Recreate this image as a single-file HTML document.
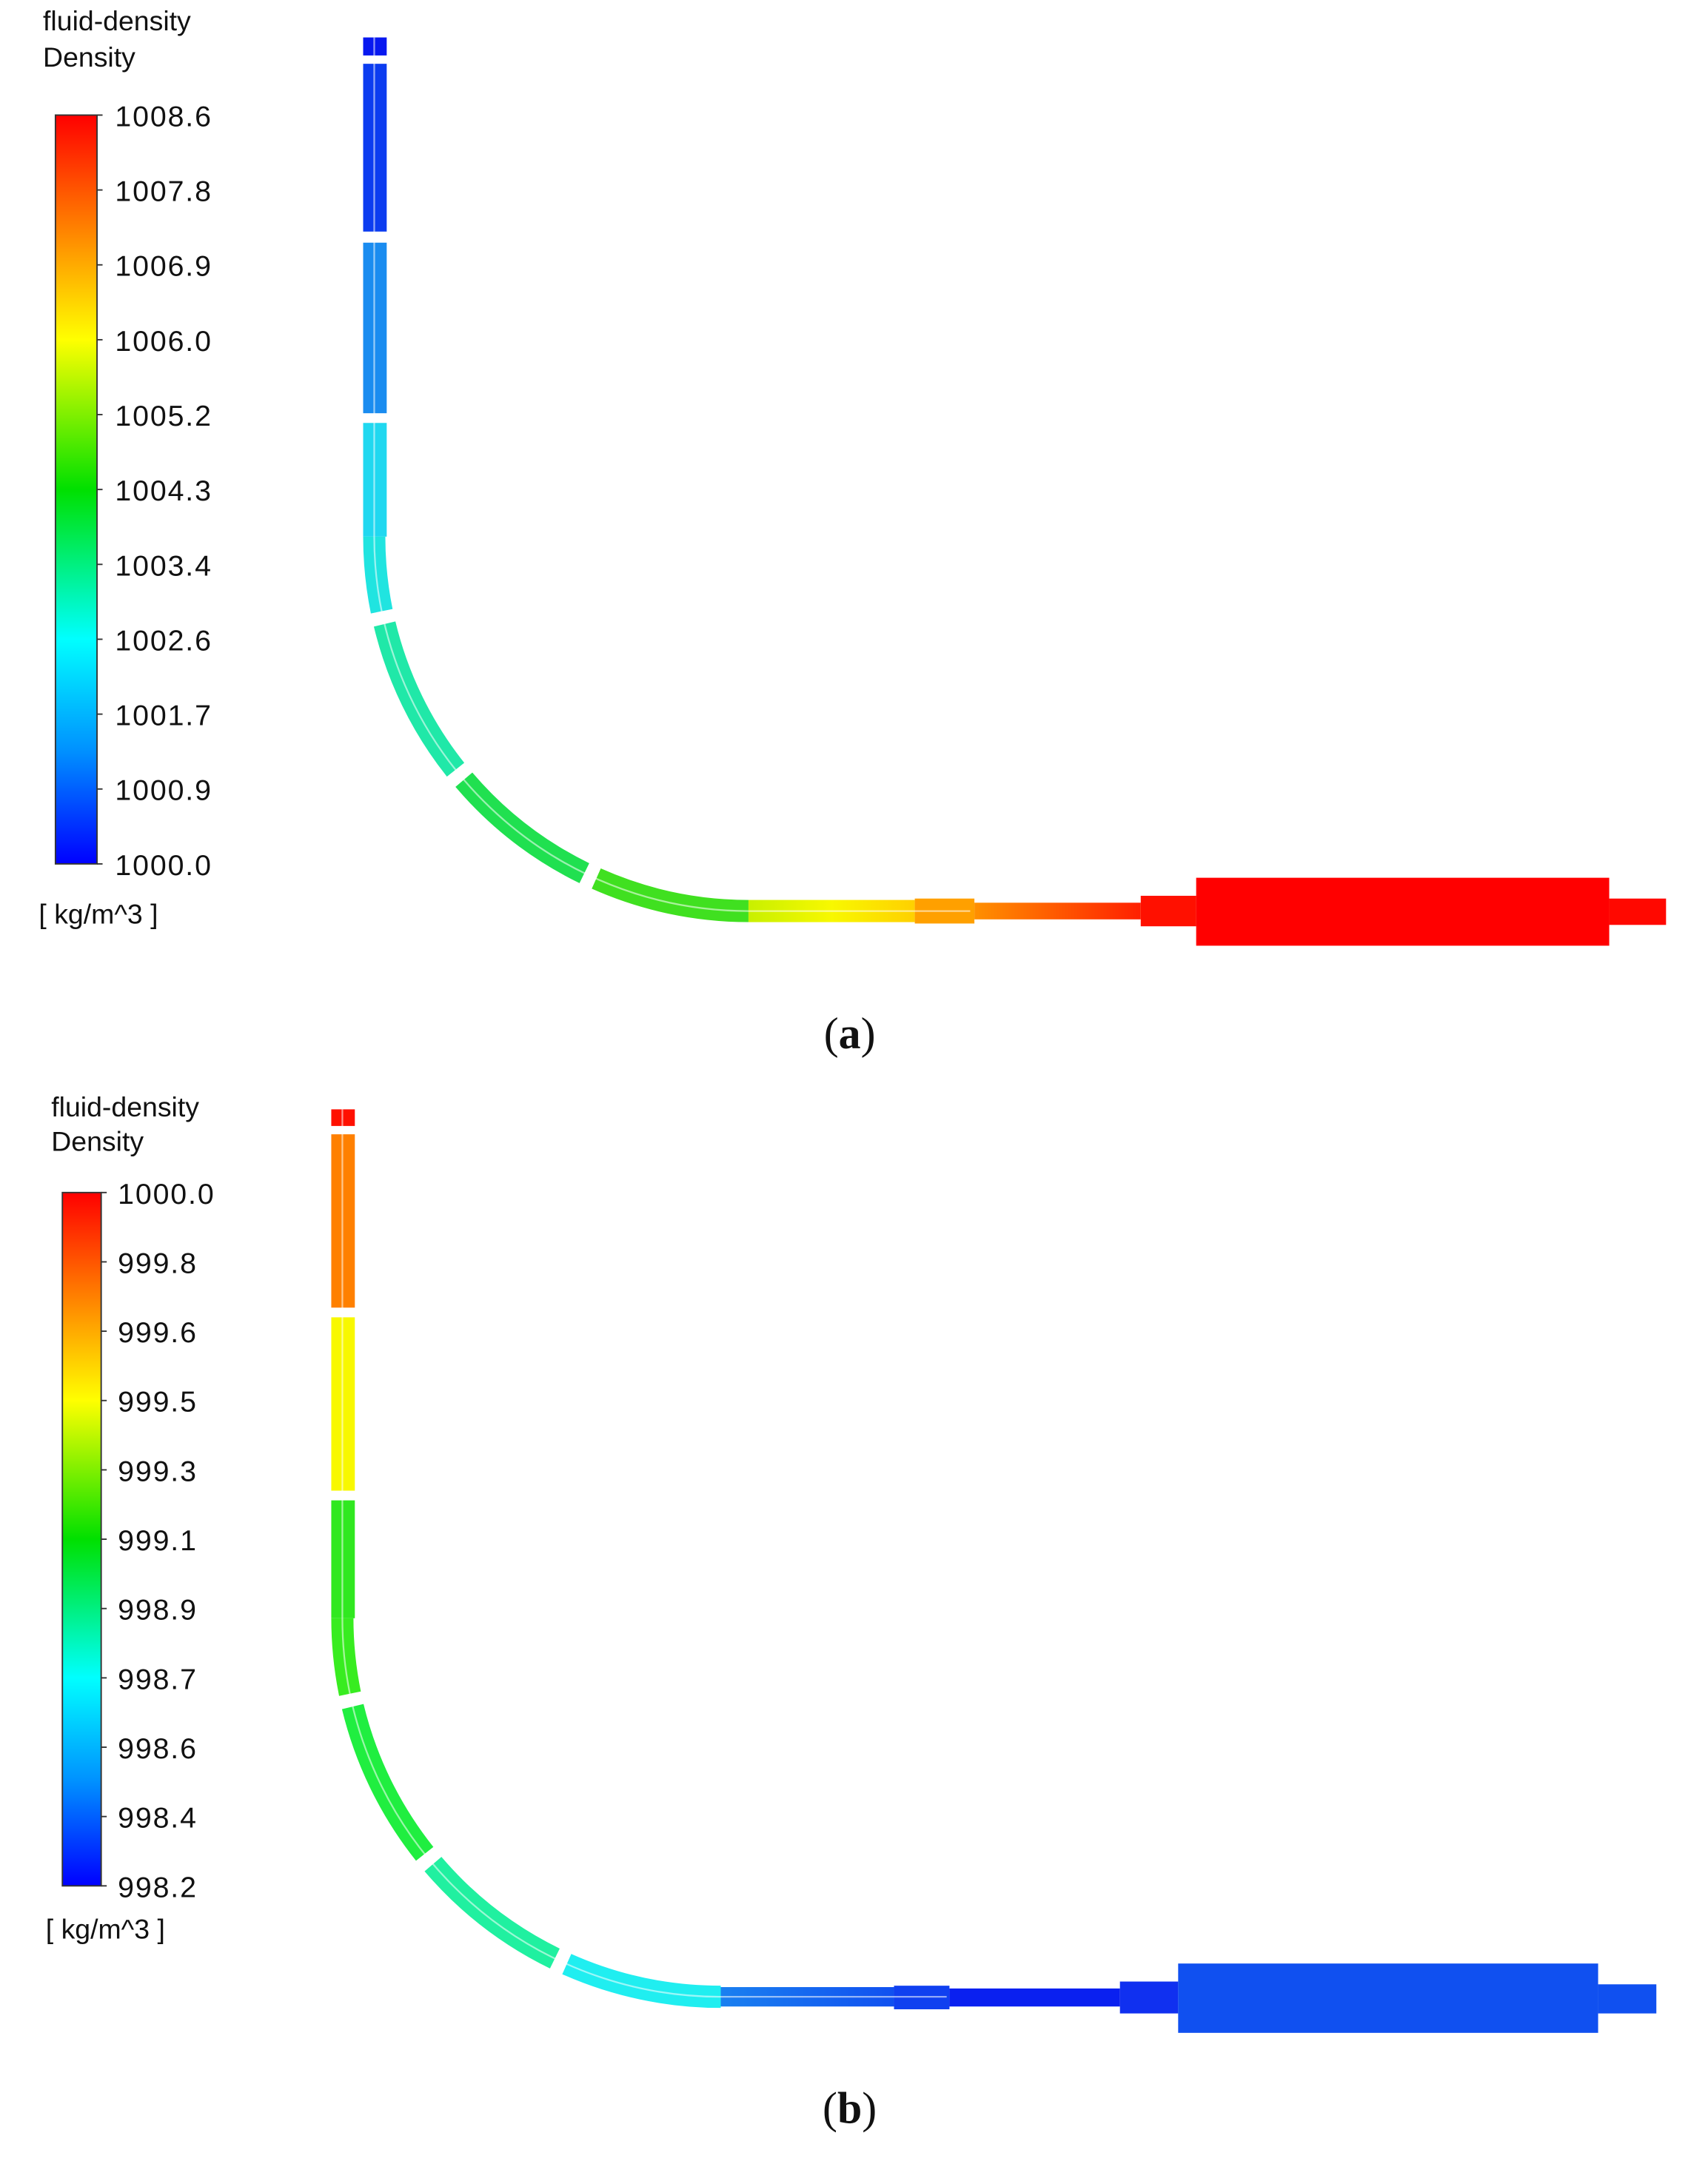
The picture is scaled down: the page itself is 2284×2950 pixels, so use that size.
<!DOCTYPE html>
<html><head><meta charset="utf-8"><style>
html,body{margin:0;padding:0;background:#fff;width:2284px;height:2950px;overflow:hidden}
svg{display:block}
text{font-family:"Liberation Sans",sans-serif;fill:#111}
.t{font-size:21px;letter-spacing:1px}
</style></head><body>
<svg width="2284" height="2950" viewBox="0 0 1220 1575" preserveAspectRatio="none" xmlns="http://www.w3.org/2000/svg">
<defs>
<linearGradient id="cb" x1="0" y1="0" x2="0" y2="1">
<stop offset="0" stop-color="#ff0000"/><stop offset="0.15" stop-color="#ff8000"/><stop offset="0.3" stop-color="#ffff00"/>
<stop offset="0.5" stop-color="#00e000"/><stop offset="0.7" stop-color="#00ffff"/><stop offset="0.85" stop-color="#0090ff"/><stop offset="1" stop-color="#0000ff"/>
</linearGradient>
<linearGradient id="ha" x1="0" x2="1"><stop offset="0" stop-color="#ff9000"/><stop offset="1" stop-color="#ff2000"/></linearGradient>
<linearGradient id="ya" x1="0" x2="1"><stop offset="0" stop-color="#c8f000"/><stop offset="0.5" stop-color="#f8f800"/><stop offset="1" stop-color="#ffd000"/></linearGradient>
<linearGradient id="hb" x1="0" x2="1"><stop offset="0" stop-color="#1a80f0"/><stop offset="1" stop-color="#1050f0"/></linearGradient>
</defs>

<!-- (a) legend -->
<text x="31" y="22" font-size="20">fluid-density</text>
<text x="31" y="48" font-size="20">Density</text>
<rect x="40" y="83" width="30" height="540" fill="url(#cb)" stroke="#333" stroke-width="1"/>
<g stroke="#333" stroke-width="1">
<line x1="70" x2="74" y1="83" y2="83"/><line x1="70" x2="74" y1="137" y2="137"/><line x1="70" x2="74" y1="191" y2="191"/><line x1="70" x2="74" y1="245" y2="245"/><line x1="70" x2="74" y1="299" y2="299"/><line x1="70" x2="74" y1="353" y2="353"/><line x1="70" x2="74" y1="407" y2="407"/><line x1="70" x2="74" y1="461" y2="461"/><line x1="70" x2="74" y1="515" y2="515"/><line x1="70" x2="74" y1="569" y2="569"/><line x1="70" x2="74" y1="623" y2="623"/>
</g>
<g class="t">
<text x="83" y="91">1008.6</text><text x="83" y="145">1007.8</text><text x="83" y="199">1006.9</text><text x="83" y="253">1006.0</text><text x="83" y="307">1005.2</text><text x="83" y="361">1004.3</text><text x="83" y="415">1003.4</text><text x="83" y="469">1002.6</text><text x="83" y="523">1001.7</text><text x="83" y="577">1000.9</text><text x="83" y="631">1000.0</text>
</g>
<text x="28" y="666" font-size="20">[ kg/m^3 ]</text>

<!-- (b) legend -->
<text x="37" y="805" font-size="20">fluid-density</text>
<text x="37" y="830" font-size="20">Density</text>
<rect x="45" y="860" width="28" height="500" fill="url(#cb)" stroke="#333" stroke-width="1"/>
<g stroke="#333" stroke-width="1">
<line x1="73" x2="77" y1="860" y2="860"/><line x1="73" x2="77" y1="910" y2="910"/><line x1="73" x2="77" y1="960" y2="960"/><line x1="73" x2="77" y1="1010" y2="1010"/><line x1="73" x2="77" y1="1060" y2="1060"/><line x1="73" x2="77" y1="1110" y2="1110"/><line x1="73" x2="77" y1="1160" y2="1160"/><line x1="73" x2="77" y1="1210" y2="1210"/><line x1="73" x2="77" y1="1260" y2="1260"/><line x1="73" x2="77" y1="1310" y2="1310"/><line x1="73" x2="77" y1="1360" y2="1360"/>
</g>
<g class="t">
<text x="85" y="868">1000.0</text><text x="85" y="918">999.8</text><text x="85" y="968">999.6</text><text x="85" y="1018">999.5</text><text x="85" y="1068">999.3</text><text x="85" y="1118">999.1</text><text x="85" y="1168">998.9</text><text x="85" y="1218">998.7</text><text x="85" y="1268">998.6</text><text x="85" y="1318">998.4</text><text x="85" y="1368">998.2</text>
</g>
<text x="33" y="1398" font-size="20">[ kg/m^3 ]</text>

<!-- (a) pipe -->
<rect x="262" y="27" width="17" height="13" fill="#0818f0"/>
<rect x="262" y="46" width="17" height="121" fill="#0c3cf0"/>
<rect x="262" y="175" width="17" height="123" fill="#1a8cf0"/>
<rect x="262" y="305" width="17" height="82" fill="#20d8f0"/>
<g fill="none" stroke-width="16">
<path d="M270 387 A270 270 0 0 0 275.4 440.8" stroke="#20e4e0"/>
<path d="M277.5 450 A270 270 0 0 0 328.7 555.1" stroke="#20e8a8"/>
<path d="M334.7 562.3 A270 270 0 0 0 421.6 629.7" stroke="#20e050"/>
<path d="M430.2 633.6 A270 270 0 0 0 540 657" stroke="#40e020"/>
</g>
<rect x="540" y="649" width="120" height="16" fill="url(#ya)"/>
<rect x="660" y="648" width="43" height="18" fill="#ffa000"/>
<rect x="703" y="651" width="120" height="12" fill="url(#ha)"/>
<rect x="823" y="646" width="40" height="22" fill="#ff1000"/>
<rect x="863" y="633" width="298" height="49" fill="#ff0000"/>
<rect x="1161" y="648" width="41" height="19" fill="#ff0800"/>
<g fill="none" stroke="rgba(255,255,255,0.55)" stroke-width="1.2">
<path d="M270 27 V387 A270 270 0 0 0 540 657 H700"/>
</g>

<!-- (b) pipe -->
<rect x="239" y="800" width="17" height="12" fill="#ff1000"/>
<rect x="239" y="818" width="17" height="125" fill="#ff8000"/>
<rect x="239" y="950" width="17" height="125" fill="#f8f800"/>
<rect x="239" y="1082" width="17" height="85" fill="#30e820"/>
<g fill="none" stroke-width="16">
<path d="M247 1167 A273 273 0 0 0 252.5 1221.4" stroke="#38ec20"/>
<path d="M254.5 1230.7 A273 273 0 0 0 306.4 1336.9" stroke="#20ee40"/>
<path d="M312.4 1344.3 A273 273 0 0 0 400.3 1412.4" stroke="#20f0a0"/>
<path d="M408.9 1416.4 A273 273 0 0 0 520 1440" stroke="#20eef0"/>
</g>
<rect x="520" y="1433" width="125" height="14" fill="url(#hb)"/>
<rect x="645" y="1432" width="40" height="17" fill="#1040f0"/>
<rect x="685" y="1434" width="123" height="13" fill="#0a20f0"/>
<rect x="808" y="1429" width="42" height="23" fill="#1030f0"/>
<rect x="850" y="1416" width="303" height="50" fill="#1050f0"/>
<rect x="1153" y="1431" width="42" height="21" fill="#1050f0"/>
<g fill="none" stroke="rgba(255,255,255,0.55)" stroke-width="1.2">
<path d="M247 800 V1167 A273 273 0 0 0 520 1440 H683"/>
</g>

<text x="613" y="756" font-size="32" text-anchor="middle" style="font-family:'Liberation Serif',serif">(<tspan font-weight="bold">a</tspan>)</text>
<text x="613" y="1531" font-size="32" text-anchor="middle" style="font-family:'Liberation Serif',serif">(<tspan font-weight="bold">b</tspan>)</text>
</svg>
</body></html>
